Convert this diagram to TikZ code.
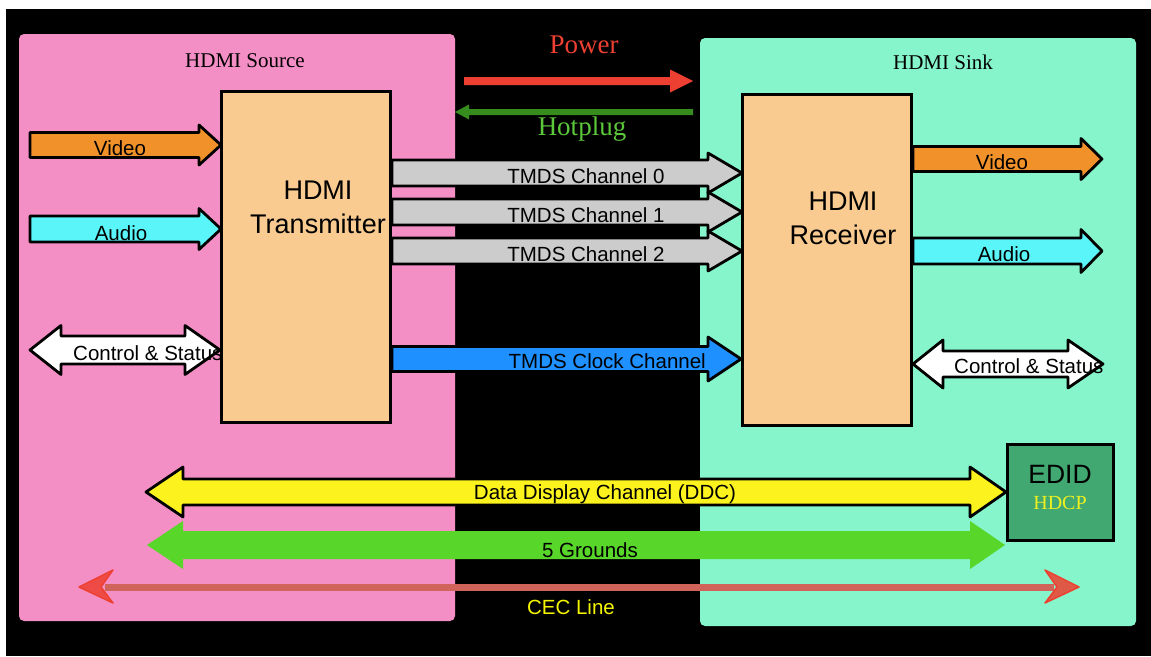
\documentclass[tikz,border=0pt]{standalone}
\usepackage{fontspec}
\setmainfont{Liberation Serif}
\setsansfont{Liberation Sans}

\definecolor{srcpink}{RGB}{244,143,198}
\definecolor{sinkmint}{RGB}{134,245,203}
\definecolor{chippeach}{RGB}{249,203,144}
\definecolor{vidorange}{RGB}{240,145,42}
\definecolor{audcyan}{RGB}{90,245,248}
\definecolor{tmdsgray}{RGB}{204,204,204}
\definecolor{clkblue}{RGB}{30,144,255}
\definecolor{ddcyellow}{RGB}{252,243,30}
\definecolor{gndgreen}{RGB}{88,214,42}
\definecolor{cecsalmon}{RGB}{208,100,90}
\definecolor{cecred}{RGB}{238,64,48}
\definecolor{pwrred}{RGB}{238,64,50}
\definecolor{hpdark}{RGB}{55,140,30}
\definecolor{hplight}{RGB}{92,200,58}
\definecolor{edidgreen}{RGB}{64,168,112}
\definecolor{hdcpyellow}{RGB}{240,240,32}
\definecolor{ceclabel}{RGB}{245,245,0}

% one-headed block arrow: style, tail x, head base x, tip x, centre y, half shaft, half head
\newcommand\blockarrow[7]{%
  \path[#1] (#2,#5-#6) -- (#3,#5-#6) -- (#3,#5-#7) -- (#4,#5)
    -- (#3,#5+#7) -- (#3,#5+#6) -- (#2,#5+#6) -- cycle;}
% two-headed block arrow: style, left tip x, left base x, right base x, right tip x, centre y, half shaft, half head
\newcommand\twinarrow[8]{%
  \path[#1] (#2,#6) -- (#3,#6-#8) -- (#3,#6-#7) -- (#4,#6-#7) -- (#4,#6-#8)
    -- (#5,#6) -- (#4,#6+#8) -- (#4,#6+#7) -- (#3,#6+#7) -- (#3,#6+#8) -- cycle;}

\tikzset{
  panel/.style={rounded corners=5pt, inner sep=0pt, outer sep=0pt},
  chip/.style={draw=black, line width=3pt, fill=chippeach, inner sep=0pt, outer sep=0pt},
  fat/.style={draw=black, line width=2.8pt, line join=round},
  lbl/.style={font=\sffamily\fontsize{20.5}{24}\selectfont, inner sep=0pt, text=black},
  biglbl/.style={font=\sffamily\fontsize{27}{34}\selectfont, inner sep=0pt, align=center},
  serlbl/.style={font=\rmfamily\fontsize{21}{24}\selectfont, inner sep=0pt},
  sigtxt/.style={font=\rmfamily\fontsize{27}{30}\selectfont, inner sep=0pt},
  cechead/.style={fill=cecred, fill opacity=0.85, draw=cecred, line width=1.5pt, line join=round},
}

\begin{document}
\begin{tikzpicture}[x=1pt, y=-1pt]
\useasboundingbox (0,0) rectangle (1151,656);
\fill[white] (0,0) rectangle (1151,656);
\fill[black] (6,9) rectangle (1151,656);

% source and sink panels
\node[panel, fill=srcpink, minimum width=436pt, minimum height=587pt] (src) at (237,327.5) {};
\node[panel, fill=sinkmint, minimum width=436pt, minimum height=588pt] (sink) at (918,332) {};
\node[serlbl] (srcname) at (245,61) {HDMI Source};
\node[serlbl] (sinkname) at (943,62) {HDMI Sink};

% power and hotplug
\blockarrow{fill=pwrred}{464}{670}{693}{81}{4}{11.5}
\blockarrow{fill=hpdark}{693}{469}{455}{112}{3}{7.5}
\node[sigtxt, text=pwrred] (pwr) at (584,45) {Power};
\node[sigtxt, text=hplight] (hpd) at (582,129) {Hotplug};

% source side inputs
\blockarrow{fat, fill=vidorange}{30}{199}{221}{145}{12.5}{20}
\node[lbl] (vinL) at (120,148) {Video};
\blockarrow{fat, fill=audcyan}{30}{199}{221}{229}{13}{20.5}
\node[lbl] (ainL) at (121,233) {Audio};
\twinarrow{fat, fill=white}{30}{61}{185}{220}{350}{14}{24.5}
\node[lbl, anchor=west] (csL) at (73,353) {Control \& Status};

% transmitter
\node[chip, minimum width=169pt, minimum height=331pt] (tx) at (305.5,256.5) {};
\node[biglbl] (txname) at (318,207) {HDMI\\Transmitter};

% TMDS links
\blockarrow{fat, fill=tmdsgray}{392}{708}{742}{173}{13}{20}
\node[lbl] (ch0) at (586,176) {TMDS Channel 0};
\blockarrow{fat, fill=tmdsgray}{392}{708}{742}{212}{13}{20}
\node[lbl] (ch1) at (586,215) {TMDS Channel 1};
\blockarrow{fat, fill=tmdsgray}{392}{708}{742}{251}{13}{20}
\node[lbl] (ch2) at (586,254) {TMDS Channel 2};
\blockarrow{fat, fill=clkblue}{392}{708}{741}{359}{12.5}{22}
\node[lbl, anchor=east] (clk) at (706,361) {TMDS Clock Channel};

% receiver
\node[chip, minimum width=169pt, minimum height=331pt] (rx) at (826.5,259.5) {};
\node[biglbl] (rxname) at (843,218) {HDMI\\Receiver};

% sink side outputs
\blockarrow{fat, fill=vidorange}{913}{1081}{1102}{159}{12.5}{20.5}
\node[lbl] (voutR) at (1002,162) {Video};
\blockarrow{fat, fill=audcyan}{913}{1081}{1102}{251}{13}{21.5}
\node[lbl] (aoutR) at (1004,254) {Audio};
\twinarrow{fat, fill=white}{913}{943}{1068}{1103}{364}{13}{24}
\node[lbl, anchor=west] (csR) at (954,366) {Control \& Status};

% EDID / HDCP block
\node[draw=black, line width=3pt, fill=edidgreen, minimum width=106pt, minimum height=96pt,
      inner sep=0pt] (edid) at (1060,492) {};
\node[font=\sffamily\fontsize{26.5}{30}\selectfont, inner sep=0pt] (edidname) at (1060,474) {EDID};
\node[font=\rmfamily\fontsize{20}{24}\selectfont, text=hdcpyellow, inner sep=0pt] (hdcp) at (1060,503) {HDCP};

% DDC, grounds and CEC
\twinarrow{fat, fill=ddcyellow}{146}{183}{970}{1006}{492}{13}{25}
\node[lbl] (ddc) at (605,494) {Data Display Channel (DDC)};
\twinarrow{fill=gndgreen}{147}{183}{970}{1005}{545}{14}{24}
\node[lbl] (gnd) at (590,550) {5 Grounds};
\draw[cecsalmon, line width=7pt] (105,587) -- (1054,587);
\path[cechead] (79,587) -- (113,570) -- (101,587) -- (113,603) -- cycle;
\path[cechead] (1079,587) -- (1045,570) -- (1057,587) -- (1045,603) -- cycle;
\node[lbl, text=ceclabel] (cec) at (571,607) {CEC Line};
\end{tikzpicture}
\end{document}
